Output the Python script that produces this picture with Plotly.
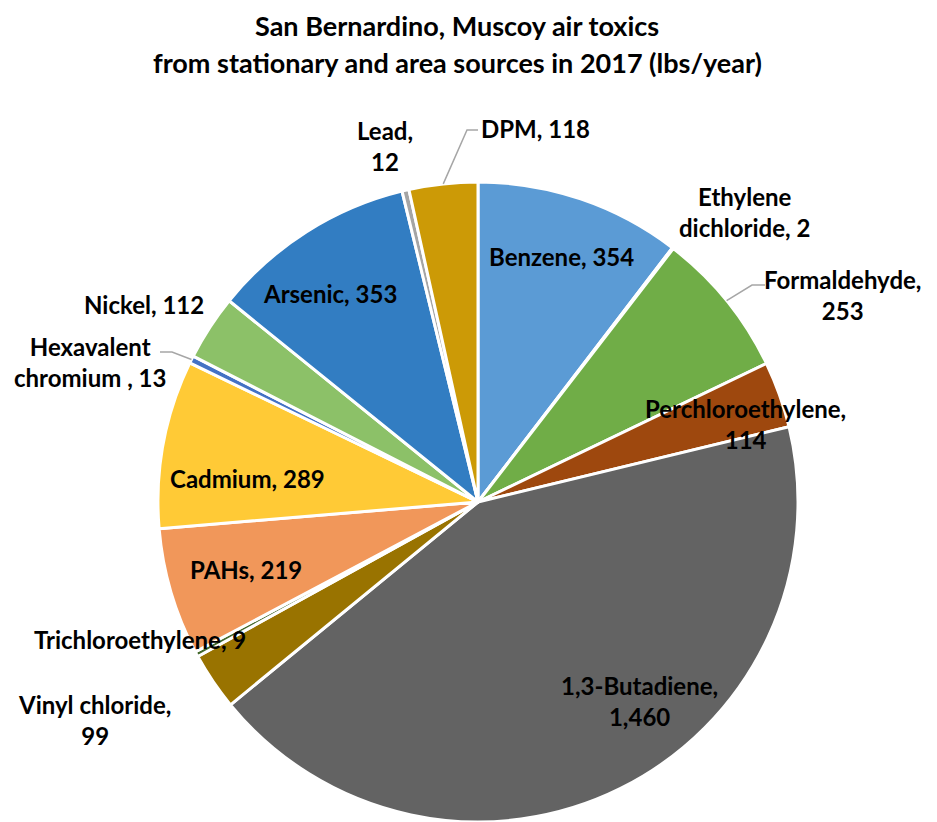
import math
import plotly.graph_objects as go

# slices, clockwise from 12 o'clock
pollutants = ['Benzene', 'Ethylene dichloride', 'Formaldehyde', 'Perchloroethylene',
              '1,3-Butadiene', 'Vinyl chloride', 'Trichloroethylene', 'PAHs', 'Cadmium',
              'Hexavalent chromium ', 'Nickel', 'Arsenic', 'Lead', 'DPM']
lbs_per_year = [354, 2, 253, 114, 1460, 99, 9, 219, 289, 13, 112, 353, 12, 118]
label_text = ['Benzene, 354', 'Ethylene<br>dichloride, 2', 'Formaldehyde,<br>253',
              'Perchloroethylene,<br>114', '1,3-Butadiene,<br>1,460', 'Vinyl chloride,<br>99',
              'Trichloroethylene, 9', 'PAHs, 219', 'Cadmium, 289', 'Hexavalent<br>chromium , 13',
              'Nickel, 112', 'Arsenic, 353', 'Lead,<br>12', 'DPM, 118']

colors = ['#5B9BD5', '#ED7D31', '#70AD47', '#9E480E', '#636363', '#997300', '#43682B',
          '#F1975A', '#FFCA36', '#4472C4', '#8CC168', '#327DC2', '#A5A5A5', '#CC9A06']

W, H = 937, 822
OFF = 8  # page body margin
CX, CY, R = 478 - OFF, 502 - OFF, 320
FONT = 'Lato, "Open Sans", sans-serif'

# label placement: (angle clockwise from top, radius as fraction of pie radius)
label_pos = [(18.9, 0.81), (42.6, 1.23), (60.4, 1.31), (73.7, 0.87), (141, 0.80),
             (240.4, 1.38), (247.8, 1.14), (253.7, 0.756), (275.9, 0.725), (289.8, 1.29),
             (300.5, 1.213), (324.6, 0.80), (345.4, 1.15), (8.8, 1.18)]


def to_paper(ang, r):
    a = math.radians(ang)
    return (CX + r * math.sin(a)) / W, 1 - (CY - r * math.cos(a)) / H


def px(x, y):
    return (x - OFF) / W, 1 - (y - OFF) / H


fig = go.Figure(go.Pie(
    labels=pollutants, values=lbs_per_year, sort=False, direction='clockwise', rotation=0,
    marker=dict(colors=colors, line=dict(color='white', width=3)),
    textinfo='none', hoverinfo='label+value',
    domain=dict(x=[(CX - R) / W, (CX + R) / W], y=[1 - (CY + R) / H, 1 - (CY - R) / H]),
))

annotations = []
for txt, (ang, rf) in zip(label_text, label_pos):
    x, y = to_paper(ang, rf * R)
    annotations.append(dict(x=x, y=y, xref='paper', yref='paper', text='<b>' + txt + '</b>',
                            showarrow=False, xanchor='center', yanchor='middle', align='center',
                            font=dict(family=FONT, size=24, color='black')))

for txt, ty in [('San Bernardino, Muscoy air toxics', 25),
                ('from stationary and area sources in 2017 (lbs/year)', 62)]:
    x, y = px(457, ty)
    annotations.append(dict(x=x, y=y, xref='paper', yref='paper', showarrow=False,
                            xanchor='center', yanchor='middle', text='<b>' + txt + '</b>',
                            font=dict(family=FONT, size=27, color='black')))

# leader lines: slice index, elbow and end point (pixels in the reference)
total = sum(lbs_per_year)
leaders = [(13, (467, 130), (478, 130)), (2, (752, 285), (765, 285)), (9, (172, 352), (160, 352))]
shapes = []
for idx, elbow, end in leaders:
    mid = (sum(lbs_per_year[:idx]) + lbs_per_year[idx] / 2) / total * 360
    x0, y0 = to_paper(mid, R)
    x1, y1 = px(*elbow)
    x2, y2 = px(*end)
    shapes.append(dict(type='path', path='M {} {} L {} {} L {} {}'.format(x0, y0, x1, y1, x2, y2),
                       xref='paper', yref='paper', line=dict(color='#A6A6A6', width=1.5)))

fig.update_layout(width=W, height=H, margin=dict(l=0, r=0, t=0, b=0), showlegend=False,
                  paper_bgcolor='white', plot_bgcolor='white',
                  annotations=annotations, shapes=shapes)
fig.write_html('out.html')
